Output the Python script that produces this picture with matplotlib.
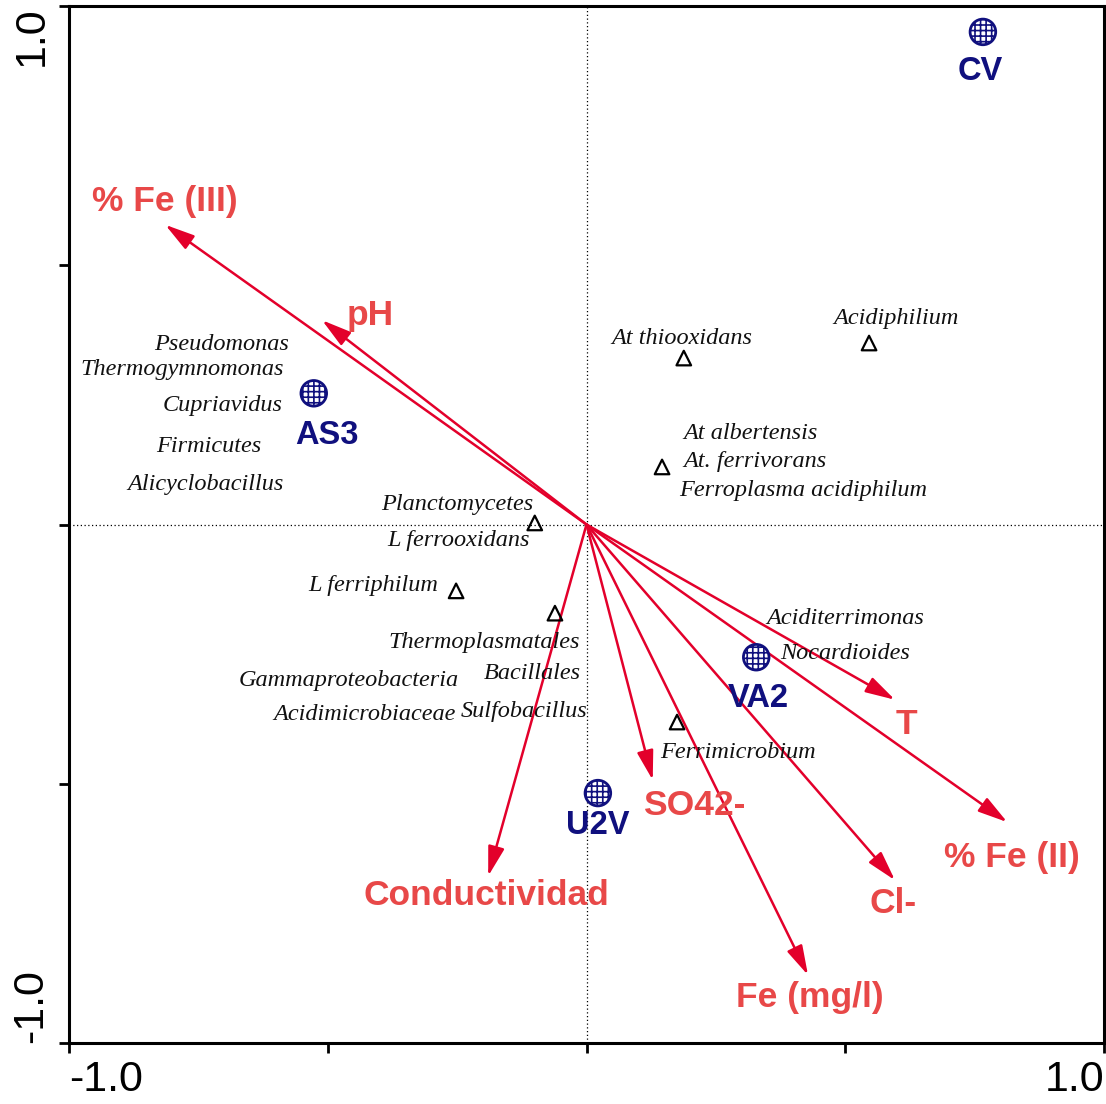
import matplotlib
matplotlib.use("Agg")
import matplotlib.pyplot as plt

# Sampling sites (ordination scores)
sites = ["AS3", "CV", "VA2", "U2V"]
site_x = [-0.527, 0.766, 0.328, 0.022]
site_y = [0.253, 0.950, -0.256, -0.518]
site_lab_x = [-0.501, 0.760, 0.331, 0.022]
site_lab_y = [0.171, 0.873, -0.335, -0.580]

# Environmental variables (biplot arrows)
env_names = ["% Fe (III)", "pH", "T", "% Fe (II)", "Cl-", "Fe (mg/l)", "SO42-", "Conductividad"]
env_x = [-0.814, -0.511, 0.596, 0.813, 0.596, 0.428, 0.128, -0.190]
env_y = [0.578, 0.394, -0.338, -0.574, -0.686, -0.869, -0.493, -0.678]
env_lab_x = [-0.814, -0.418, 0.619, 0.822, 0.592, 0.432, 0.208, -0.194]
env_lab_y = [0.622, 0.404, -0.385, -0.643, -0.730, -0.913, -0.541, -0.716]

# Taxa scores (triangles)
taxa_x = [0.188, 0.546, 0.146, -0.100, -0.252, -0.061, 0.175]
taxa_y = [0.321, 0.350, 0.111, 0.003, -0.128, -0.171, -0.381]

# Taxa labels
taxa_names = ["Pseudomonas", "Thermogymnomonas", "Cupriavidus", "Firmicutes", "Alicyclobacillus",
              "At thiooxidans", "Acidiphilium", "At albertensis", "At. ferrivorans",
              "Ferroplasma acidiphilum", "Planctomycetes", "L ferrooxidans", "L ferriphilum",
              "Thermoplasmatales", "Gammaproteobacteria", "Bacillales", "Acidimicrobiaceae",
              "Sulfobacillus", "Aciditerrimonas", "Nocardioides", "Ferrimicrobium"]
taxa_lab_x = [-0.706, -0.782, -0.704, -0.729, -0.737, 0.184, 0.598, 0.316, 0.326, 0.418,
              -0.250, -0.248, -0.413, -0.198, -0.459, -0.105, -0.428, -0.121, 0.500, 0.500, 0.293]
taxa_lab_y = [0.348, 0.298, 0.229, 0.151, 0.078, 0.358, 0.398, 0.175, 0.122, 0.065,
              0.038, -0.030, -0.117, -0.227, -0.300, -0.288, -0.367, -0.360, -0.182, -0.248, -0.439]

ARROW_RED = "#e3002b"
LABEL_RED = "#e84848"
NAVY = "#10107e"

plt.rcParams["hatch.linewidth"] = 1.2

fig = plt.figure(figsize=(11.06, 11.04), dpi=100)
ax = fig.add_axes([69 / 1106, 1 - 1043 / 1104, (1104 - 69) / 1106, (1043 - 6) / 1104])
ax.set_xlim(-1, 1)
ax.set_ylim(-1, 1)

ax.axhline(0, color="black", lw=0.9, ls=(0, (1, 2)), zorder=1)
ax.axvline(0, color="black", lw=0.9, ls=(0, (1, 2)), zorder=1)

for name, x, y, lx, ly in zip(env_names, env_x, env_y, env_lab_x, env_lab_y):
    ax.annotate("", xy=(x, y), xytext=(0, 0),
                arrowprops=dict(arrowstyle="-|>,head_length=0.9,head_width=0.25",
                                color=ARROW_RED, lw=1.8, shrinkA=0, shrinkB=0,
                                mutation_scale=20),
                zorder=2)
    ax.text(lx, ly, name, color=LABEL_RED, fontsize=25.5, fontweight="bold",
            family="Liberation Sans", ha="center", va="center", zorder=5)

ax.scatter(site_x, site_y, s=340, marker="o", facecolor="white", edgecolor=NAVY,
           hatch="+++", linewidths=2.0, zorder=4)
for name, lx, ly in zip(sites, site_lab_x, site_lab_y):
    ax.text(lx, ly, name, color=NAVY, fontsize=23.5, fontweight="bold",
            family="Liberation Sans", ha="center", va="center", zorder=5)

ax.scatter(taxa_x, taxa_y, s=110, marker="^", facecolor="none", edgecolor="black",
           linewidths=1.6, zorder=4)
for name, lx, ly in zip(taxa_names, taxa_lab_x, taxa_lab_y):
    ax.text(lx, ly, name, color="#111111", fontsize=17.5, style="italic",
            family="Liberation Serif", ha="center", va="center", zorder=5)

ticks = [-1.0, -0.5, 0.0, 0.5, 1.0]
ax.set_xticks(ticks)
ax.set_yticks(ticks)
ax.set_xticklabels(["-1.0", "", "", "", "1.0"], fontsize=31, family="Liberation Sans")
ax.set_yticklabels(["-1.0", "", "", "", "1.0"], fontsize=31, family="Liberation Sans",
                   rotation=90)
xl = ax.get_xticklabels()
xl[0].set_ha("left")
xl[-1].set_ha("right")
yl = ax.get_yticklabels()
yl[0].set_va("bottom")
yl[-1].set_va("top")
for lab in yl:
    lab.set_ha("center")
ax.tick_params(axis="both", direction="out", length=7, width=2, colors="black")
ax.tick_params(axis="x", pad=5)
ax.tick_params(axis="y", pad=20)
for sp in ax.spines.values():
    sp.set_linewidth(2.2)

fig.savefig("out.png", dpi=100)
